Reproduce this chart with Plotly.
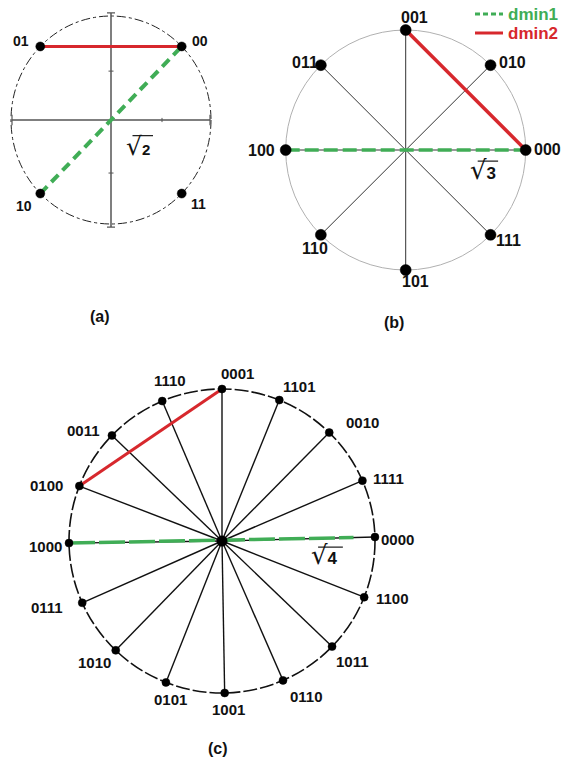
import numpy as np
import plotly.graph_objects as go

W, H = 566, 777

# ---------------- data ----------------
# (a) 4-point constellation
A_LABELS = ["00", "01", "10", "11"]
A_ANGLES = [45, 135, 225, 315]
A_DMIN1 = ("10", "00")
A_DMIN2 = ("01", "00")
A_DIST = "2"

# (b) 8-point constellation
B_LABELS = ["000", "010", "001", "011", "100", "110", "101", "111"]
B_ANGLES = [0, 45, 90, 135, 180, 225, 270, 315]
B_DMIN1 = ("100", "000")
B_DMIN2 = ("001", "000")
B_DIST = "3"

# (c) 16-point constellation
C_LABELS = ["0000", "1111", "0010", "1101", "0001", "1110", "0011", "0100",
            "1000", "0111", "1010", "0101", "1001", "0110", "1011", "1100"]
C_ANGLES = [1.5, 23.4, 45.5, 68, 90, 113, 136, 158.8,
            180.8, 204, 226, 248.5, 271, 293.5, 316, 338.3]
C_DMIN1 = ("1000", "0000")
C_DMIN2 = ("0100", "0001")
C_DIST = "4"

LEGEND_NAMES = ["dmin1", "dmin2"]
PANEL_TAGS = ["(a)", "(b)", "(c)"]

# ---------------- style ----------------
RED = "#d7282d"
GREEN = "#40ad56"
FONT = "Liberation Sans"

# panel geometry in pixels: centre x, centre y, unit x, unit y, half range
PANELS = {
    "a": dict(cx=111, cy=120, ux=100, uy=104, R=1.1),
    "b": dict(cx=405.7, cy=150, ux=120, uy=120, R=1.2),
    "c": dict(cx=222, cy=541, ux=153, uy=152, R=1.1),
}
AXES = {"a": ("x", "y"), "b": ("x2", "y2"), "c": ("x3", "y3")}

A_SHIFTS = {"00": (18, 5), "01": (-19, 5), "10": (-16, -12), "11": (17, -10)}
B_SHIFTS = {"000": (22, 1), "010": (22, 3), "001": (9, 12), "011": (-16, 3),
            "100": (-24, 0), "110": (-6, -14), "101": (10, -11), "111": (18, -6)}
C_SHIFTS = {"0001": (15, 15), "1101": (20, 14), "0010": (33, 10), "1111": (26, 2),
            "0000": (23, -2), "1100": (28, -1), "1011": (20, -15), "0110": (23, -16),
            "1001": (4, -17), "0101": (5, -17), "1010": (-21, -12), "0111": (-35, -5),
            "1000": (-24, -3), "0100": (-33, 1), "0011": (-28, 5), "1110": (8, 21)}

fig = go.Figure()
layout_axes = {}
shapes = []
annotations = []


def domain(p):
    x0 = (p["cx"] - p["R"] * p["ux"]) / W
    x1 = (p["cx"] + p["R"] * p["ux"]) / W
    ytop = p["cy"] - p["R"] * p["uy"]
    ybot = p["cy"] + p["R"] * p["uy"]
    return [x0, x1], [1 - ybot / H, 1 - ytop / H]


for key, p in PANELS.items():
    dx, dy = domain(p)
    xa, ya = AXES[key]
    xname = "xaxis" if xa == "x" else "xaxis" + xa[1:]
    yname = "yaxis" if ya == "y" else "yaxis" + ya[1:]
    layout_axes[xname] = dict(domain=dx, range=[-p["R"], p["R"]], visible=False, fixedrange=True)
    layout_axes[yname] = dict(domain=dy, range=[-p["R"], p["R"]], visible=False, fixedrange=True)


def coords(labels, angles):
    r = np.deg2rad(np.array(angles, dtype=float))
    return {lab: (np.cos(a), np.sin(a)) for lab, a in zip(labels, r)}


def add_spokes(pts, xa, ya, color, width):
    xs, ys = [], []
    for lab, (x, y) in pts.items():
        xs += [0, x, None]
        ys += [0, y, None]
    fig.add_trace(go.Scatter(x=xs, y=ys, mode="lines", xaxis=xa, yaxis=ya,
                             line=dict(color=color, width=width), showlegend=False,
                             hoverinfo="skip"))


def add_pair(pts, pair, xa, ya, color, dash, width, name=None, end_frac=1.0):
    (x0, y0), (x1, y1) = pts[pair[0]], pts[pair[1]]
    fig.add_trace(go.Scatter(x=[x0, x1 * end_frac], y=[y0, y1 * end_frac], mode="lines",
                             xaxis=xa, yaxis=ya, name=name, showlegend=False,
                             line=dict(color=color, width=width, dash=dash),
                             hoverinfo="skip"))


def add_points(pts, xa, ya, size):
    fig.add_trace(go.Scatter(x=[v[0] for v in pts.values()], y=[v[1] for v in pts.values()],
                             mode="markers", xaxis=xa, yaxis=ya, cliponaxis=False,
                             marker=dict(color="black", size=size, line=dict(color="black", width=0.5)),
                             showlegend=False, hoverinfo="skip"))


def add_labels(pts, shifts, xa, ya, size):
    for lab, (x, y) in pts.items():
        sx, sy = shifts[lab]
        annotations.append(dict(x=x, y=y, xref=xa, yref=ya, text=lab, showarrow=False,
                                xshift=sx, yshift=sy,
                                font=dict(family=FONT, size=size, color="#111", weight="bold")))


def add_sqrt(dist, xa, ya, xy, bar, rad_size, num_size):
    txt = (f"<span style='font-family:DejaVu Sans;font-weight:normal;font-size:{rad_size}px'>√</span>"
           f"<b>{dist}</b>")
    annotations.append(dict(x=xy[0], y=xy[1], xref=xa, yref=ya, text=txt, showarrow=False,
                            font=dict(family=FONT, size=num_size, color="#111")))
    shapes.append(dict(type="line", xref=xa, yref=ya, x0=bar[0], x1=bar[1], y0=bar[2], y1=bar[2],
                       line=dict(color="#222", width=1.2)))


# ---------- panel (a) ----------
pa = coords(A_LABELS, A_ANGLES)
xa, ya = AXES["a"]
shapes.append(dict(type="circle", xref=xa, yref=ya, x0=-1, x1=1, y0=-1, y1=1, layer="below",
                   line=dict(color="#222", width=1, dash="dashdot")))
axis_col = "#555"
shapes.append(dict(type="line", xref=xa, yref=ya, x0=-0.99, x1=0.99, y0=0, y1=0, layer="below",
                   line=dict(color=axis_col, width=1.5)))
shapes.append(dict(type="line", xref=xa, yref=ya, x0=0, x1=0, y0=-1.03, y1=1.03, layer="below",
                   line=dict(color=axis_col, width=1.5)))
for xe in (-0.99, 0.99):
    shapes.append(dict(type="line", xref=xa, yref=ya, x0=xe, x1=xe, y0=-0.05, y1=0.05,
                       line=dict(color=axis_col, width=1.2)))
for ye in (-1.03, 1.03):
    shapes.append(dict(type="line", xref=xa, yref=ya, x0=-0.04, x1=0.04, y0=ye, y1=ye,
                       line=dict(color=axis_col, width=1.2)))
for ye in (-0.51, 0.47):
    shapes.append(dict(type="line", xref=xa, yref=ya, x0=-0.025, x1=0.025, y0=ye, y1=ye,
                       line=dict(color=axis_col, width=1)))
shapes.append(dict(type="line", xref=xa, yref=ya, x0=0.51, x1=0.51, y0=-0.02, y1=0.02,
                   line=dict(color=axis_col, width=1)))
add_pair(pa, A_DMIN2, xa, ya, RED, "solid", 3)
add_pair(pa, A_DMIN1, xa, ya, GREEN, "10px,6px", 4)
add_points(pa, xa, ya, 9)
add_labels(pa, A_SHIFTS, xa, ya, 14)
add_sqrt(A_DIST, xa, ya, (0.265, -0.25), (0.215, 0.42, -0.15), 25, 15)

# ---------- panel (b) ----------
pb = coords(B_LABELS, B_ANGLES)
xa, ya = AXES["b"]
shapes.append(dict(type="circle", xref=xa, yref=ya, x0=-1, x1=1, y0=-1, y1=1, layer="below",
                   line=dict(color="#b0b0b0", width=1)))
add_spokes(pb, xa, ya, "#333", 1)
add_pair(pb, B_DMIN2, xa, ya, RED, "solid", 3.5, name=LEGEND_NAMES[1])
add_pair(pb, B_DMIN1, xa, ya, GREEN, "14px,5px", 3.5, name=LEGEND_NAMES[0])
add_points(pb, xa, ya, 11)
add_labels(pb, B_SHIFTS, xa, ya, 16)
add_sqrt(B_DIST, xa, ya, (0.64, -0.165), (0.60, 0.77, -0.092), 26, 17)

# ---------- panel (c) ----------
pc = coords(C_LABELS, C_ANGLES)
xa, ya = AXES["c"]
shapes.append(dict(type="circle", xref=xa, yref=ya, x0=-1, x1=1, y0=-1, y1=1, layer="below",
                   line=dict(color="#111", width=1.6, dash="14px,3px")))
add_spokes(pc, xa, ya, "#111", 1.4)
add_pair(pc, C_DMIN2, xa, ya, RED, "solid", 3)
add_pair(pc, C_DMIN1, xa, ya, GREEN, "26px,4px", 3.5, end_frac=0.86)
add_points(pc, xa, ya, 8)
fig.add_trace(go.Scatter(x=[0], y=[0], mode="markers", xaxis=xa, yaxis=ya,
                         marker=dict(color="black", size=11), showlegend=False, hoverinfo="skip"))
add_labels(pc, C_SHIFTS, xa, ya, 15)
add_sqrt(C_DIST, xa, ya, (0.667, -0.095), (0.628, 0.79, -0.04), 26, 17)

# ---------- legend (top right) ----------
LEG_ITEMS = [(LEGEND_NAMES[0], GREEN, "5px,3px", 14), (LEGEND_NAMES[1], RED, "solid", 33)]
for name, col, dash, py in LEG_ITEMS:
    shapes.append(dict(type="line", xref="paper", yref="paper", x0=475 / W, x1=503 / W,
                       y0=1 - py / H, y1=1 - py / H, line=dict(color=col, width=3, dash=dash)))
    annotations.append(dict(x=506 / W, y=1 - py / H, xref="paper", yref="paper", text=name,
                            xanchor="left", yanchor="middle", showarrow=False,
                            font=dict(family=FONT, size=17, color=col, weight="bold")))

# ---------- panel tags ----------
TAG_POS = [(88, 316), (406, 322), (218, 759)]
for tag, (px, py) in zip(PANEL_TAGS, TAG_POS):
    annotations.append(dict(x=px / W, y=1 - py / H, xref="paper", yref="paper", text=tag,
                            showarrow=False, font=dict(family=FONT, size=16, color="#111", weight="bold")))

fig.update_layout(
    width=W, height=H, autosize=False,
    margin=dict(l=0, r=0, t=0, b=0),
    paper_bgcolor="white", plot_bgcolor="white",
    shapes=shapes, annotations=annotations, showlegend=False,
    **layout_axes,
)

fig.write_html("out.html", post_script="document.body.style.margin='0';",
               config={"displayModeBar": False})
